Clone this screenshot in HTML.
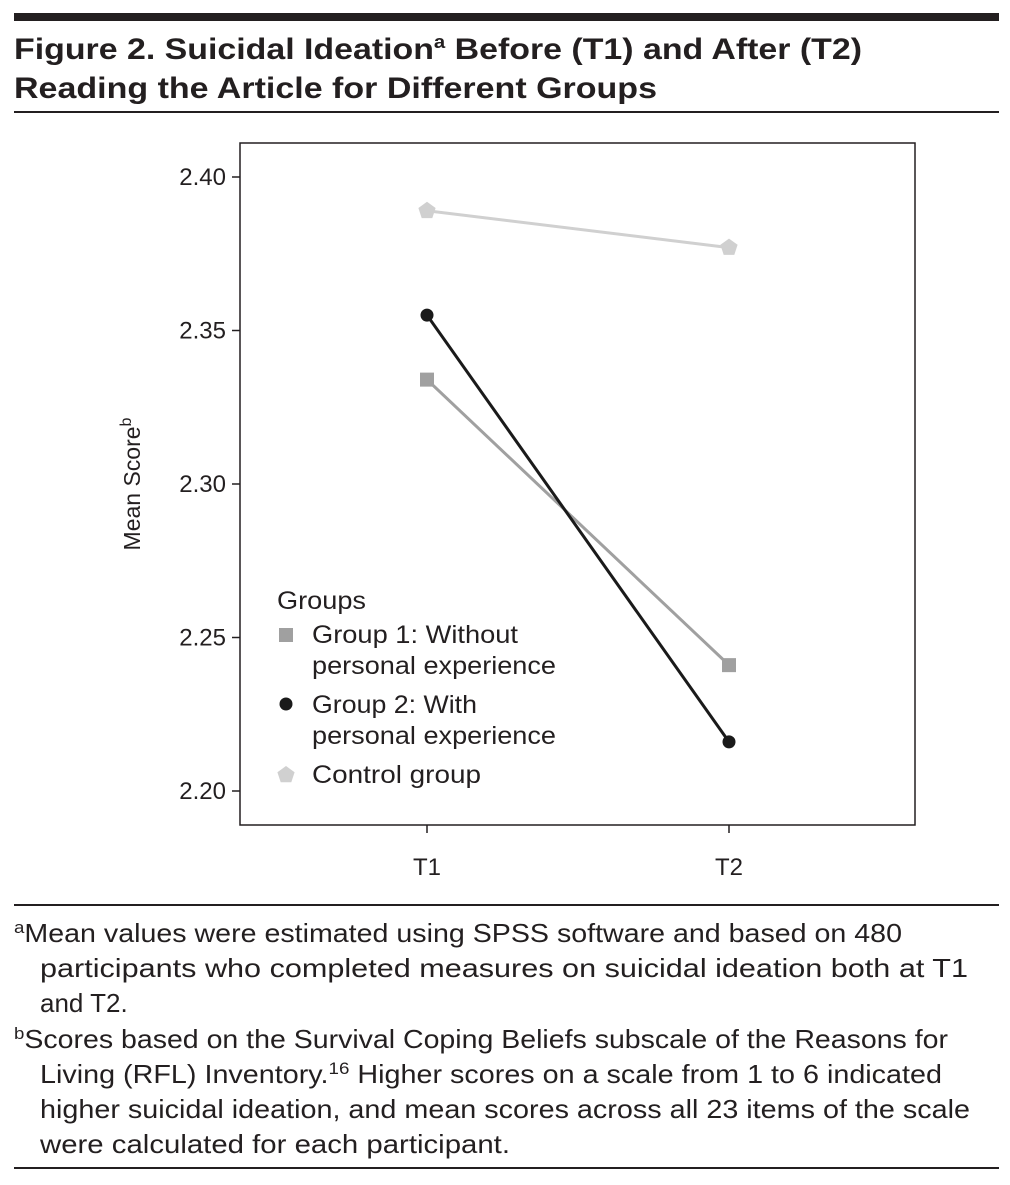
<!DOCTYPE html>
<html><head><meta charset="utf-8"><style>
body{margin:0;background:#fff;width:1010px;height:1180px;overflow:hidden;font-family:"Liberation Sans",sans-serif;}
svg text{font-family:"Liberation Sans",sans-serif;}
</style></head><body>
<svg width="1010" height="1180">
<rect x="14" y="13" width="985" height="8" fill="#231f20"/>
<text x="14" y="59" font-size="30" font-weight="bold" fill="#231f20" textLength="848" lengthAdjust="spacingAndGlyphs">Figure 2. Suicidal Ideation<tspan font-size="18" dy="-11">a</tspan><tspan dy="11"> Before (T1) and After (T2)</tspan></text>
<text x="14" y="98" font-size="30" font-weight="bold" fill="#231f20" textLength="643" lengthAdjust="spacingAndGlyphs">Reading the Article for Different Groups</text>
<rect x="14" y="111" width="985" height="2" fill="#231f20"/>
<g id="chart"></g>
<rect x="14" y="904" width="985" height="2" fill="#231f20"/>
<g font-size="26" fill="#231f20">
<text x="14" y="942" textLength="888" lengthAdjust="spacingAndGlyphs"><tspan font-size="17" dy="-9">a</tspan><tspan dy="9">Mean values were estimated using SPSS software and based on 480</tspan></text>
<text x="40" y="977" textLength="928" lengthAdjust="spacingAndGlyphs">participants who completed measures on suicidal ideation both at T1</text>
<text x="40" y="1012">and T2.</text>
<text x="14" y="1048" textLength="934" lengthAdjust="spacingAndGlyphs"><tspan font-size="17" dy="-9">b</tspan><tspan dy="9">Scores based on the Survival Coping Beliefs subscale of the Reasons for</tspan></text>
<text x="40" y="1083" textLength="902" lengthAdjust="spacingAndGlyphs">Living (RFL) Inventory.<tspan font-size="17" dy="-9">16</tspan><tspan dy="9"> Higher scores on a scale from 1 to 6 indicated</tspan></text>
<text x="40" y="1118" textLength="930" lengthAdjust="spacingAndGlyphs">higher suicidal ideation, and mean scores across all 23 items of the scale</text>
<text x="40" y="1153" textLength="470" lengthAdjust="spacingAndGlyphs">were calculated for each participant.</text>
</g>
<rect x="14" y="1167" width="985" height="2" fill="#231f20"/>
</svg>
<script>
const categories=["T1","T2"];
const group1=[2.334,2.241];
const group2=[2.355,2.216];
const control=[2.389,2.377];
const yTicks=[2.20,2.25,2.30,2.35,2.40];
const NS="http://www.w3.org/2000/svg";
const g=document.getElementById('chart');
const X0=240,X1=915,Y0=143,Y1=825;
function x(i){return 427+i*302;}
function y(v){return 791-(v-2.20)/0.05*153.5;}
function mk(t,a,p){const e=document.createElementNS(NS,t);for(const k in a)e.setAttribute(k,a[k]);(p||g).appendChild(e);return e;}
const frame=mk('rect',{x:X0,y:Y0,width:X1-X0,height:Y1-Y0,fill:'none',stroke:'#231f20','stroke-width':1.5});


yTicks.forEach(v=>{
 const t=mk('line',{x1:X0-8,x2:X0,y1:y(v),y2:y(v),stroke:'#231f20','stroke-width':1.5});
 
 
 const l=mk('text',{x:X0-14,y:y(v)+8,'font-size':24,'text-anchor':'end',fill:'#231f20'});
 l.textContent=v.toFixed(2);
 
 
});
categories.forEach((c,i)=>{
 const t=mk('line',{x1:x(i),x2:x(i),y1:Y1,y2:Y1+8,stroke:'#231f20','stroke-width':1.5});
 
 
 const l=mk('text',{x:x(i),y:Y1+50,'font-size':24,'text-anchor':'middle',fill:'#231f20'});
 l.textContent=c;
 
 
});
const yt=mk('text',{transform:'translate(140,484) rotate(-90)','font-size':23,'text-anchor':'middle',fill:'#231f20'});
yt.innerHTML='Mean Score<tspan font-size="16" dy="-9">b</tspan>';


function marker(type,cx,cy,col,parent){
 let e;
 if(type==='sq')e=mk('rect',{x:cx-7,y:cy-7,width:14,height:14,fill:col},parent);
 else if(type==='ci')e=mk('circle',{cx:cx,cy:cy,r:6.5,fill:col},parent);
 else{let p=[];for(let k=0;k<5;k++){const a=-Math.PI/2+k*2*Math.PI/5;p.push((cx+9*Math.cos(a)).toFixed(1)+','+(cy+9*Math.sin(a)).toFixed(1));}e=mk('polygon',{points:p.join(' '),fill:col},parent);}
 return e;
}
const series=[[control,'#d0d0d0','pe','control'],[group1,'#a0a0a0','sq','group1'],[group2,'#1a1a1a','ci','group2']];
series.forEach(([vals,col,m,n])=>{
 const ln=mk('polyline',{points:vals.map((v,i)=>x(i)+','+y(v)).join(' '),fill:'none',stroke:col,'stroke-width':3});
 
 
 vals.forEach((v,i)=>{const mm=marker(m,x(i),y(v),col);
  
  });
});
const lg=mk('g',{});


function lt(tx,yy,xx,w){const e=mk('text',{x:xx,y:yy,'font-size':25,fill:'#231f20',textLength:w,lengthAdjust:'spacingAndGlyphs'},lg);e.textContent=tx;return e;}
lt('Groups',609,277,89);
marker('sq',286,635,'#a0a0a0',lg);lt('Group 1: Without',643,312,206);lt('personal experience',674,312,244);
marker('ci',286,704,'#1a1a1a',lg);lt('Group 2: With',713,312,165);lt('personal experience',744,312,244);
marker('pe',286,775,'#d0d0d0',lg);lt('Control group',783,312,169);
</script>
</body></html>
